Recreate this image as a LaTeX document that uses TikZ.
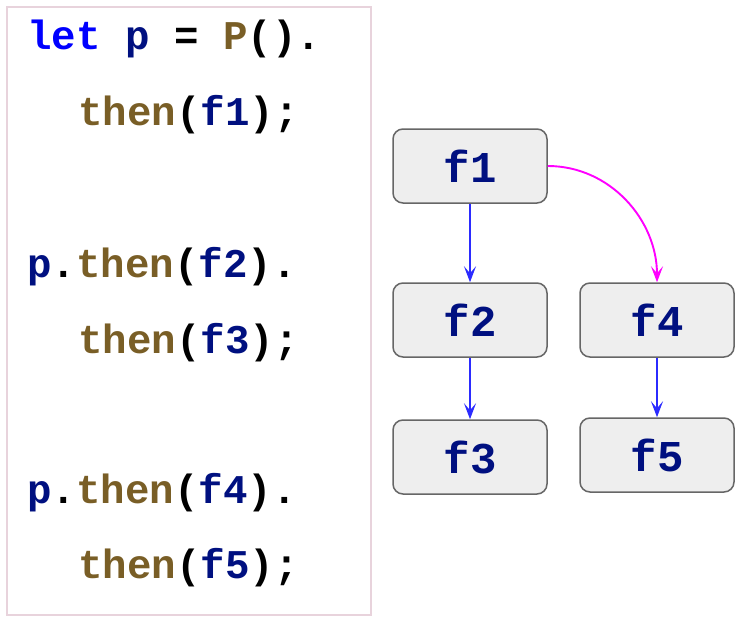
\documentclass[tikz,border=0pt]{standalone}
\usepackage{fontspec}
\usepackage{xcolor}
\usepackage{tikz}
\usetikzlibrary{arrows.meta}
\newfontfamily\codefont{Liberation Mono}

\definecolor{kwblue}{HTML}{0000FF}
\definecolor{varnavy}{HTML}{001080}
\definecolor{fnbrown}{HTML}{795E26}
\definecolor{boxpink}{HTML}{E8D3DC}
\definecolor{fnfill}{HTML}{EEEEEE}
\definecolor{fnedge}{HTML}{666666}
\definecolor{thenblue}{HTML}{2B2BFF}
\definecolor{forkpink}{HTML}{FF00FF}

\newcommand{\kw}[1]{\textcolor{kwblue}{#1}}
\newcommand{\vr}[1]{\textcolor{varnavy}{#1}}
\newcommand{\fn}[1]{\textcolor{fnbrown}{#1}}

\tikzset{
  codeline/.style={anchor=base west, inner sep=0pt,
    font=\codefont\bfseries\fontsize{40.8}{48}\selectfont},
  fnbox/.style={draw=fnedge, fill=fnfill, line width=1.5pt, rounded corners=10pt,
    minimum width=154pt, minimum height=74pt, text=varnavy,
    font=\codefont\bfseries\fontsize{44}{50}\selectfont},
  chain/.style={draw=thenblue, line width=1.9pt, -{Stealth[length=16pt,width=12pt,inset=7pt]}},
  fork/.style={draw=forkpink, line width=1.9pt, -{Stealth[length=16pt,width=12pt,inset=7pt]}}
}

\begin{document}
\begin{tikzpicture}[x=1pt,y=-1pt]
    \useasboundingbox (0,0) rectangle (746,623);
    \draw[boxpink, line width=1.5pt] (7,7) rectangle (371,615);
    % code
    \node[codeline] (l1) at (27,50) {\kw{let} \vr{p} = \fn{P}().};
    \node[codeline] (l2) at (78,125) {\fn{then}(\vr{f1});};
    \node[codeline] (l3) at (27,277) {\vr{p}.\fn{then}(\vr{f2}).};
    \node[codeline] (l4) at (78,353) {\fn{then}(\vr{f3});};
    \node[codeline] (l5) at (27,503) {\vr{p}.\fn{then}(\vr{f4}).};
    \node[codeline] (l6) at (78,578) {\fn{then}(\vr{f5});};
    % graph
    \node[fnbox] (f1) at (470,166) {f1};
    \node[fnbox] (f2) at (470,320) {f2};
    \node[fnbox] (f3) at (470,457) {f3};
    \node[fnbox] (f4) at (657,320) {f4};
    \node[fnbox] (f5) at (657,455) {f5};
    \draw[chain] (f1) -- (f2);
    \draw[chain] (f2) -- (f3);
    \draw[chain] (f4) -- (f5);
    \draw[fork] (f1.east) to[out=0,in=90] (f4.north);
\end{tikzpicture}
\end{document}
